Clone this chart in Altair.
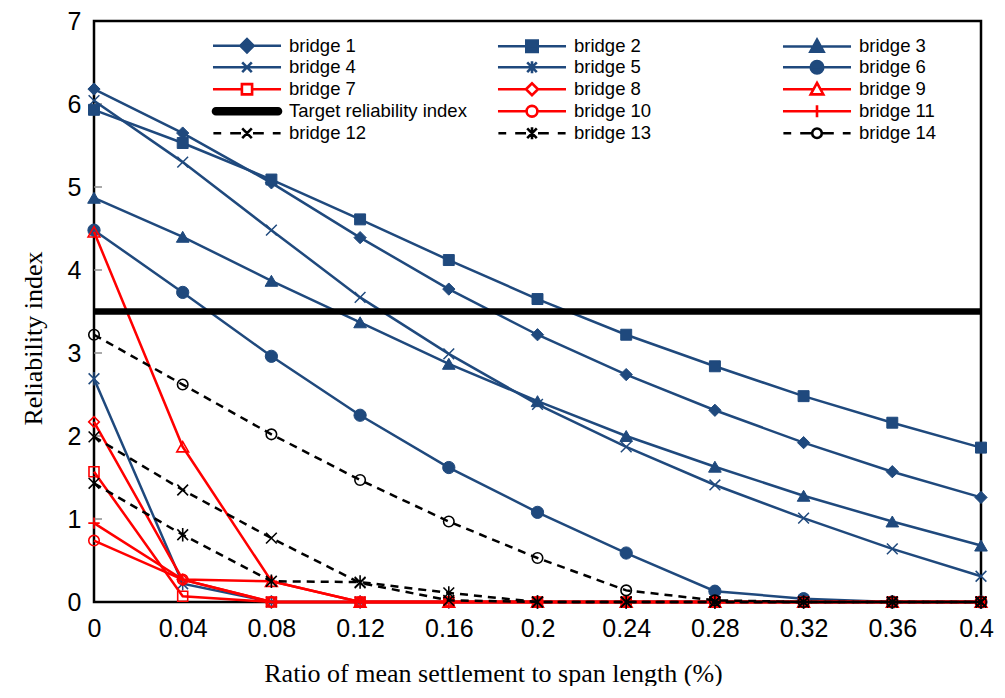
import altair as alt
import pandas as pd

# ---------------- data ----------------
x_vals = [0, 0.04, 0.08, 0.12, 0.16, 0.2, 0.24, 0.28, 0.32, 0.36, 0.4]
x_ticks = [0, 0.04, 0.08, 0.12, 0.16, 0.2, 0.24, 0.28, 0.32, 0.36, 0.4]
y_ticks = [0, 1, 2, 3, 4, 5, 6, 7]
y_inner_ticks = [1, 2, 3, 4, 5, 6]

b1 = [6.18, 5.65, 5.05, 4.39, 3.77, 3.22, 2.74, 2.31, 1.92, 1.57, 1.26]
b2 = [5.93, 5.53, 5.09, 4.61, 4.12, 3.65, 3.22, 2.84, 2.48, 2.16, 1.86]
b3 = [4.87, 4.40, 3.87, 3.37, 2.87, 2.42, 2.00, 1.63, 1.28, 0.97, 0.68]
b4 = [6.04, 5.30, 4.48, 3.67, 2.99, 2.38, 1.87, 1.41, 1.01, 0.64, 0.31]
b5 = [2.69, 0.22, 0, 0, 0, 0, 0, 0, 0, 0, 0]
b6 = [4.48, 3.73, 2.96, 2.25, 1.62, 1.08, 0.59, 0.13, 0.04, 0, 0]
b7 = [1.57, 0.07, 0, 0, 0, 0, 0, 0, 0, 0, 0]
b8 = [2.17, 0.27, 0, 0, 0, 0, 0, 0, 0, 0, 0]
b9 = [4.46, 1.87, 0.25, 0, 0, 0, 0, 0, 0, 0, 0]
target = [3.5, 3.5, 3.5, 3.5, 3.5, 3.5, 3.5, 3.5, 3.5, 3.5, 3.5]
b10 = [0.74, 0.27, 0, 0, 0, 0, 0, 0, 0, 0, 0]
b11 = [0.95, 0.27, 0.25, 0, 0, 0, 0, 0, 0, 0, 0]
b12 = [1.99, 1.35, 0.77, 0.23, 0.02, 0, 0, 0, 0, 0, 0]
b13 = [1.43, 0.81, 0.25, 0.24, 0.11, 0, 0, 0, 0, 0, 0]
b14 = [3.22, 2.62, 2.02, 1.47, 0.97, 0.53, 0.14, 0.02, 0, 0, 0]

series_names = ["bridge 1", "bridge 2", "bridge 3", "bridge 4", "bridge 5",
                "bridge 6", "bridge 7", "bridge 8", "bridge 9",
                "Target reliability index", "bridge 10", "bridge 11",
                "bridge 12", "bridge 13", "bridge 14"]
series_values = [b1, b2, b3, b4, b5, b6, b7, b8, b9, target, b10, b11, b12, b13, b14]

rows = []
for name, vals in zip(series_names, series_values):
    for xv, yv in zip(x_vals, vals):
        rows.append({"series": name, "x": xv, "y": yv})
df = pd.DataFrame(rows)

# ---------------- styles ----------------
BLUE = "#1F497D"
RED = "#FF0000"
BLACK = "#000000"

XP = "M-0.8,-0.8L0.8,0.8M-0.8,0.8L0.8,-0.8"
AST = XP + "M0,-1V1"
PLUS = "M-1,0H1M0,-1V1"

# (color, line width, dash, marker shape, marker size, filled, marker stroke width)
styles = {
    "bridge 1": (BLUE, 2.5, None, "diamond", 150, True, 1),
    "bridge 2": (BLUE, 2.5, None, "square", 120, True, 1),
    "bridge 3": (BLUE, 2.5, None, "triangle-up", 160, True, 1),
    "bridge 4": (BLUE, 2.5, None, XP, 180, False, 1.5),
    "bridge 5": (BLUE, 2.5, None, AST, 180, False, 1.5),
    "bridge 6": (BLUE, 2.5, None, "circle", 150, True, 1),
    "bridge 7": (RED, 2.5, None, "square", 100, False, 1.6),
    "bridge 8": (RED, 2.5, None, "diamond", 110, False, 1.6),
    "bridge 9": (RED, 2.5, None, "triangle-up", 140, False, 1.6),
    "Target reliability index": (BLACK, 6.5, None, None, 0, False, 0),
    "bridge 10": (RED, 2.5, None, "circle", 110, False, 1.6),
    "bridge 11": (RED, 2.5, None, PLUS, 130, False, 1.6),
    "bridge 12": (BLACK, 2.5, [8, 6], XP, 180, False, 1.6),
    "bridge 13": (BLACK, 2.5, [8, 6], AST, 180, False, 1.6),
    "bridge 14": (BLACK, 2.5, [8, 6], "circle", 110, False, 1.6),
}

# legend symbols: line + marker drawn as one custom path (unit = 6 px)
LINE = "M-5.67,0H5.67"
DASH = "M-5.6,0H-4.3M-2.8,0H-1M1,0H2.8M4.3,0H5.6"
legend_paths = [
    LINE + "M-1.1,0L0,-1.1L1.1,0L0,1.1Z",
    LINE + "M-0.95,-0.95H0.95V0.95H-0.95Z",
    LINE + "M0,-1.15L1.1,0.85H-1.1Z",
    LINE + XP,
    LINE + AST,
    LINE + "M-1.05,0A1.05,1.05 0 1,1 1.05,0A1.05,1.05 0 1,1 -1.05,0Z",
    "M-5.67,0H-0.85M0.85,0H5.67M-0.85,-0.85H0.85V0.85H-0.85Z",
    "M-5.67,0H-1M1,0H5.67M-1,0L0,-1L1,0L0,1Z",
    "M-5.67,0H-0.56M0.56,0H5.67M0,-1.05L1.05,0.85H-1.05Z",
    "M-5.17,-0.5H5.17A0.5,0.5 0 0,1 5.17,0.5H-5.17A0.5,0.5 0 0,1 -5.17,-0.5Z",
    "M-5.67,0H-0.9M0.9,0H5.67M-0.9,0A0.9,0.9 0 1,1 0.9,0A0.9,0.9 0 1,1 -0.9,0Z",
    LINE + "M0,-1V1",
    DASH + XP,
    DASH + AST,
    "M-5.6,0H-4.3M-2.8,0H-0.8M0.8,0H2.8M4.3,0H5.6M-0.8,0A0.8,0.8 0 1,1 0.8,0A0.8,0.8 0 1,1 -0.8,0Z",
]
legend_strokes = [styles[n][0] for n in series_names]
legend_fills = []
for n in series_names:
    col, _, _, shp, _, filled, _ = styles[n]
    if n == "Target reliability index":
        legend_fills.append(BLACK)
    elif filled:
        legend_fills.append(col)
    else:
        legend_fills.append("#FFFFFF")

# ---------------- encodings ----------------
x_enc = alt.X("x:Q",
              scale=alt.Scale(domain=[0, 0.4], nice=False, zero=False),
              axis=alt.Axis(values=x_ticks, format="~g", ticks=False, domain=False,
                            grid=False, labelPadding=14, labelFlush=False,
                            labelOverlap=False,
                            labelOffset={"condition": {"test": "datum.value > 0.39", "value": -5},
                                         "value": 0},
                            labelFont="Liberation Sans", labelFontSize=25, labelColor="black",
                            title="Ratio of mean settlement to span length (%)",
                            titleFont="Liberation Serif", titleFontSize=26,
                            titleFontWeight="normal", titleColor="black",
                            titleX=399, titleY=71, titleBaseline="middle"))
y_enc = alt.Y("y:Q",
              scale=alt.Scale(domain=[0, 7], nice=False),
              axis=alt.Axis(values=y_ticks, format="d", ticks=False, domain=False,
                            grid=False, labelPadding=13, labelFlush=False,
                            labelFont="Liberation Sans", labelFontSize=25, labelColor="black",
                            title="Reliability index",
                            titleFont="Liberation Serif", titleFontSize=26,
                            titleFontWeight="normal", titleColor="black",
                            titleX=-61, titleY=317, titleBaseline="middle"))

layers = []

# inner y tick marks
tick_df = pd.DataFrame({"y": y_inner_ticks})
layers.append(
    alt.Chart(tick_df).mark_rule(color="#8C8C8C", strokeWidth=1.5)
    .encode(y=y_enc, x=alt.value(0), x2=alt.value(8))
)

for name in series_names:
    col, lw, dash, shp, sz, filled, msw = styles[name]
    base = alt.Chart(df).transform_filter(alt.datum.series == name)
    line_kwargs = dict(color=col, strokeWidth=lw, opacity=1)
    if dash:
        line_kwargs["strokeDash"] = dash
    if name == "Target reliability index":
        line_kwargs["strokeCap"] = "butt"
    layers.append(base.mark_line(**line_kwargs).encode(x=x_enc, y=y_enc))
    if shp is not None:
        if filled:
            pt = base.mark_point(shape=shp, size=sz, filled=True, color=col,
                                 stroke=col, strokeWidth=msw, opacity=1)
        else:
            pt = base.mark_point(shape=shp, size=sz, filled=False, color=col,
                                 strokeWidth=msw, opacity=1)
        layers.append(pt.encode(x=x_enc, y=y_enc))

leg = alt.Legend(title=None, orient="none", legendX=119, legendY=15,
                 columns=3, direction="horizontal", gridAlign="all",
                 columnPadding=25, rowPadding=-3.5,
                 symbolSize=144, symbolStrokeWidth=2.6, symbolOffset=24.75,
                 labelOffset=32.75, labelFont="Liberation Sans",
                 labelFontSize=18.5, labelColor="black", labelLimit=400,
                 padding=0, symbolLimit=0)

legend_layer = (
    alt.Chart(df).transform_filter("false")
    .mark_point(size=144, strokeWidth=2.6, opacity=1)
    .encode(
        x=x_enc, y=y_enc,
        shape=alt.Shape("series:N", scale=alt.Scale(domain=series_names, range=legend_paths), legend=leg),
        stroke=alt.Stroke("series:N", scale=alt.Scale(domain=series_names, range=legend_strokes), legend=leg),
        fill=alt.Fill("series:N", scale=alt.Scale(domain=series_names, range=legend_fills), legend=leg),
    )
)
layers.append(legend_layer)

chart = (
    alt.layer(*layers)
    .properties(width=887, height=581, background="white",
                padding={"left": 86, "top": 13, "right": 16, "bottom": 84},
                autosize=alt.AutoSizeParams(type="none"))
    .configure_view(stroke="black", strokeWidth=2.5)
)

chart.save("out.html", embed_options={"renderer": "svg", "actions": False})
